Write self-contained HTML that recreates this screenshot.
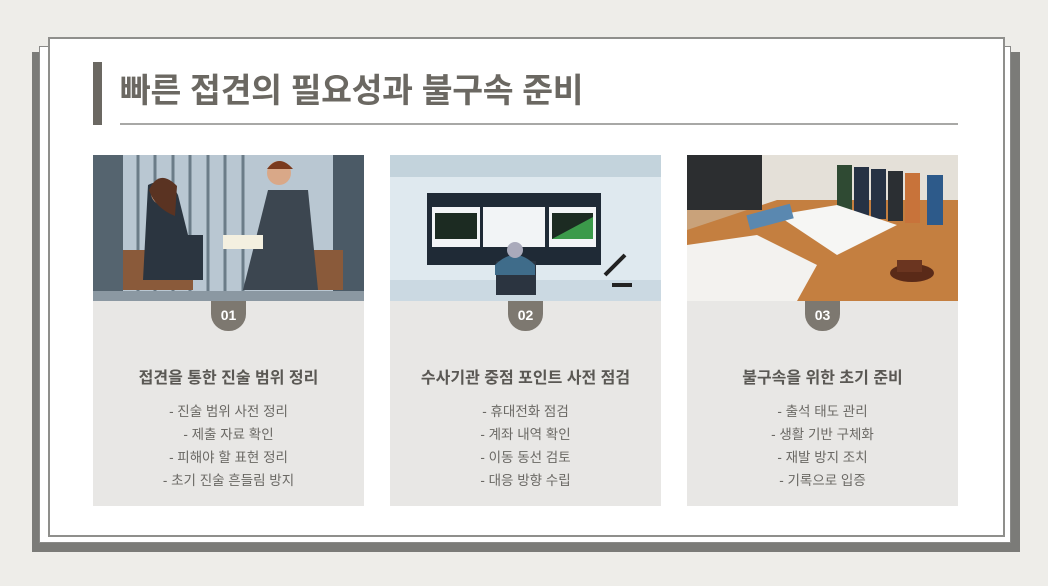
<!DOCTYPE html>
<html><head><meta charset="utf-8"><style>
*{margin:0;padding:0;box-sizing:border-box}
body{width:1048px;height:586px;background:#eeede9;position:relative;overflow:hidden;font-family:"Liberation Sans","Noto Sans CJK KR",sans-serif}
.abs{position:absolute}
.card{position:absolute;top:155px;width:271px;height:351px;background:#e8e7e5;text-align:center}
.img{position:absolute;left:0;top:0;width:100%;height:146px;overflow:hidden}
.badge{position:absolute;left:118px;top:146px;width:35px;height:30px;background:#7d7870;border-radius:0 0 17px 17px;color:#fff;font-weight:bold;font-size:14px;line-height:28px}
.t{position:absolute;left:0;right:0;top:209px;font-size:16px;font-weight:bold;color:#5a5854}
.li{position:absolute;left:0;right:0;font-size:13.5px;color:#6a6864}
</style></head><body>
<div class="abs" style="left:32px;top:52px;width:988px;height:500px;background:#7b7b78"></div>
<div class="abs" style="left:39px;top:46px;width:972px;height:497px;background:#fff;border:1px solid #8a8a88"></div>
<div class="abs" style="left:48px;top:37px;width:957px;height:500px;background:#fff;border:2px solid #8f8f8c"></div>
<div class="abs" style="left:93px;top:62px;width:9px;height:63px;background:#6b6862"></div>
<div class="abs" style="left:120px;top:63px;font-size:33.5px;font-weight:bold;color:#6b6862;letter-spacing:-0.3px">빠른 접견의 필요성과 불구속 준비</div>
<div class="abs" style="left:120px;top:123px;width:838px;height:2px;background:#a8a8a6"></div>

<div class="card" style="left:93px">
<div class="img"><svg width="271" height="146">
<rect width="271" height="146" fill="#b9c7d2"/><rect x="0" y="0" width="30" height="146" fill="#55646f"/>
<g stroke="#6b7c88" stroke-width="3"><line x1="45" y1="0" x2="45" y2="140"/><line x1="62" y1="0" x2="62" y2="140"/><line x1="80" y1="0" x2="80" y2="140"/><line x1="97" y1="0" x2="97" y2="140"/><line x1="115" y1="0" x2="115" y2="140"/><line x1="132" y1="0" x2="132" y2="140"/><line x1="150" y1="0" x2="150" y2="140"/></g>
<rect x="240" y="0" width="31" height="146" fill="#4b5a66"/><rect x="0" y="136" width="271" height="10" fill="#8b98a2"/>
<path d="M30 95 h70 v40 h-70z" fill="#8a5a3a"/><path d="M180 95 h70 v40 h-70z" fill="#8a5a3a"/>
<path d="M55 30 q20-10 30 10 l10 40 h15 v45 h-60z" fill="#2b3540"/><circle cx="70" cy="38" r="12" fill="#d9a888"/><path d="M56 35 q10-22 28 -4 l-2 30 q-20 -8 -26 -26z" fill="#5a3322"/>
<path d="M175 35 h40 l10 100 h-75z" fill="#3c4650"/><circle cx="186" cy="18" r="12" fill="#d9a888"/><path d="M174 14 q12-16 26 0z" fill="#7a3a1e"/>
<rect x="130" y="80" width="40" height="14" fill="#f4f0e0"/></svg></div>
<div class="badge">01</div>
<div class="t">접견을 통한 진술 범위 정리</div>
<div class="li" style="top:245px">- 진술 범위 사전 정리</div>
<div class="li" style="top:268px">- 제출 자료 확인</div>
<div class="li" style="top:291px">- 피해야 할 표현 정리</div>
<div class="li" style="top:314px">- 초기 진술 흔들림 방지</div>
</div>

<div class="card" style="left:390px">
<div class="img"><svg width="271" height="146">
<rect width="271" height="146" fill="#dfe9ef"/><rect width="271" height="22" fill="#c3d3dc"/>
<rect x="0" y="125" width="271" height="21" fill="#cbd9e2"/>
<rect x="37" y="38" width="174" height="72" fill="#1f2a36"/>
<rect x="42" y="52" width="48" height="40" fill="#f2f4f6"/><rect x="93" y="52" width="62" height="40" fill="#f2f4f6"/><rect x="159" y="52" width="47" height="40" fill="#f2f4f6"/>
<rect x="45" y="58" width="42" height="26" fill="#1c2b22"/><rect x="162" y="58" width="41" height="26" fill="#1c2b22"/><path d="M162 84 L203 62 V84z" fill="#3b9a4a"/>
<rect x="106" y="106" width="40" height="34" fill="#2b3440"/><path d="M105 110 q20-20 40 0 v10 h-40z" fill="#3f6c8a"/><circle cx="125" cy="95" r="8" fill="#aab"/>
<path d="M215 120 l20-20 M222 130 h20" stroke="#222" stroke-width="4"/></svg></div>
<div class="badge">02</div>
<div class="t">수사기관 중점 포인트 사전 점검</div>
<div class="li" style="top:245px">- 휴대전화 점검</div>
<div class="li" style="top:268px">- 계좌 내역 확인</div>
<div class="li" style="top:291px">- 이동 동선 검토</div>
<div class="li" style="top:314px">- 대응 방향 수립</div>
</div>

<div class="card" style="left:687px">
<div class="img"><svg width="271" height="146">
<rect width="271" height="146" fill="#c9a27a"/><rect width="271" height="55" fill="#e4e0d8"/>
<path d="M0 146 V75 L90 45 H271 V146z" fill="#c47f40"/>
<rect x="0" y="0" width="75" height="55" fill="#2c2e30"/>
<rect x="150" y="10" width="15" height="50" fill="#2f4a33"/><rect x="167" y="12" width="15" height="50" fill="#263244"/><rect x="184" y="14" width="15" height="50" fill="#263244"/><rect x="201" y="16" width="15" height="50" fill="#2b2f33"/><rect x="218" y="18" width="15" height="50" fill="#c8733a"/><rect x="240" y="20" width="16" height="50" fill="#2d5a8a"/>
<path d="M0 90 L70 80 L130 110 L110 146 H0z" fill="#f3f2ef"/><path d="M90 60 L150 50 L210 70 L150 100z" fill="#f6f6f4"/>
<rect x="60" y="55" width="45" height="15" fill="#5a88b0" transform="rotate(-15 80 60)"/>
<ellipse cx="225" cy="118" rx="22" ry="9" fill="#5a2a18"/><rect x="210" y="105" width="25" height="12" fill="#6b3520"/></svg></div>
<div class="badge">03</div>
<div class="t">불구속을 위한 초기 준비</div>
<div class="li" style="top:245px">- 출석 태도 관리</div>
<div class="li" style="top:268px">- 생활 기반 구체화</div>
<div class="li" style="top:291px">- 재발 방지 조치</div>
<div class="li" style="top:314px">- 기록으로 입증</div>
</div>
</body></html>
